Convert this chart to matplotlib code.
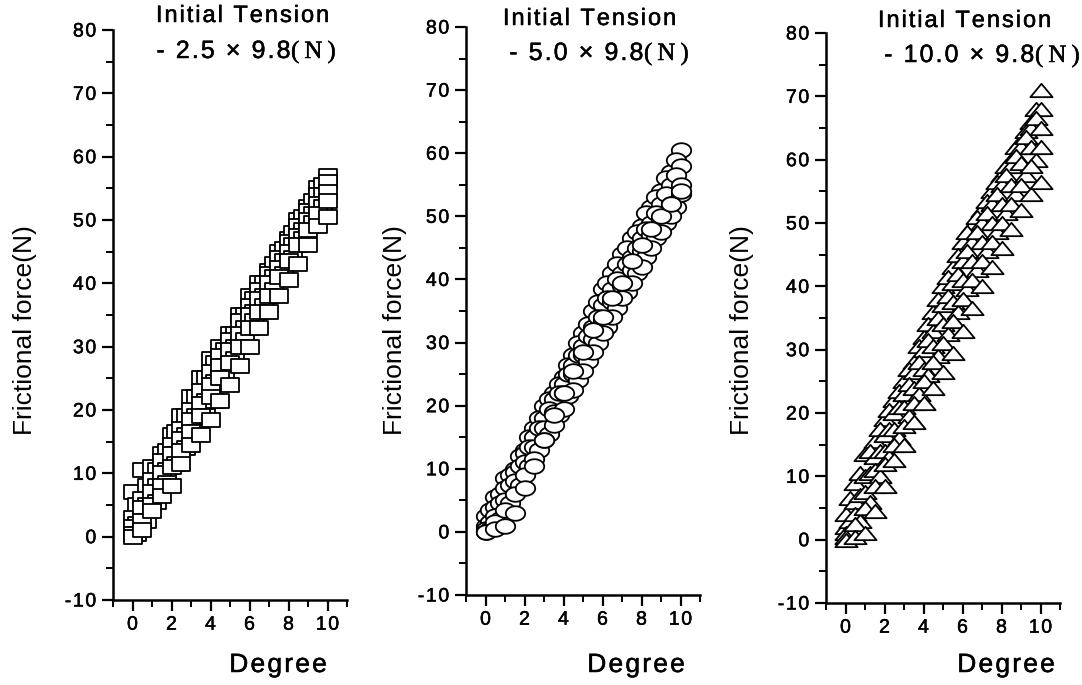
import numpy as np
import matplotlib.pyplot as plt
import matplotlib.patheffects as pe
from matplotlib.path import Path
from matplotlib.ticker import FuncFormatter

plt.rcParams['axes.unicode_minus'] = False

# Degree positions shared by all runs
degree = [0, 0.5, 1, 1.5, 2, 2.5, 3, 3.5, 4, 4.5, 5, 5.5, 6, 6.5, 7, 7.5, 8, 8.5, 9, 9.5, 10]
degree_mid = [0.25, 0.75, 1.25, 1.75, 2.25, 2.75, 3.25, 3.75, 4.25, 4.75,
              5.25, 5.75, 6.25, 6.75, 7.25, 7.75, 8.25, 8.75, 9.25, 9.75]

# Initial tension 2.5 x 9.8 N (squares)
t25_run1 = [7, 10.5, 11, 13, 16, 19, 22, 25, 28, 30, 32, 35, 38, 40, 42, 45, 47, 50, 52, 55, 57]
t25_run2 = [3, 6, 9, 12, 14.5, 17, 20, 23, 26, 28.5, 31, 34, 36.5, 39, 41.5, 44, 46.5, 49, 51.5, 54, 56]
t25_run3 = [1.5, 4.5, 7, 10, 13, 15.5, 18.5, 21, 24, 27, 29.5, 32, 35, 37.5, 40, 42.5, 45, 47.5, 50, 52.5, 54.5]
t25_run4 = [0.5, 2.5, 5, 8, 11, 13.5, 16.5, 19, 22, 25, 27.5, 30, 33, 35.5, 38, 41, 43.5, 46, 48.5, 51, 53]
t25_run5 = [0, 1, 4, 6.5, 8, 11.5, 14.5, 16, 18.5, 21.5, 24, 27, 30, 33, 35.5, 38, 40.5, 43, 46, 49, 50.5]
t25_mid1 = [5, 8, 10.5, 13.5, 16.5, 19, 22, 25, 27.5, 29.5, 32, 35, 37.5, 40, 43, 45.5, 48, 50.5, 53, 55.5]
t25_mid2 = [2, 5, 8, 10.5, 13, 16, 19, 21.5, 24.5, 27, 30, 33, 35.5, 38, 41, 43.5, 46, 48.5, 51, 54]
t25_mid3 = [0.5, 2.5, 5.5, 8.5, 11.5, 14, 16.5, 19, 21.5, 25, 28, 31, 34, 36.5, 39, 41.5, 44, 47, 49.5, 52]

# Initial tension 5.0 x 9.8 N (circles)
t50_run1 = [2.5, 5.5, 8.5, 10, 13, 16.5, 20, 22, 24.5, 28, 31.5, 35, 38.5, 41, 44, 46.5, 48.5, 51.5, 54, 57, 60.5]
t50_run2 = [1, 4, 7, 9.5, 12.5, 15, 18, 21, 23.5, 26.5, 29.5, 32.5, 36, 38.5, 41, 43.5, 46.5, 49, 52, 55, 58]
t50_run3 = [0.5, 2.5, 5, 8, 11, 13.5, 16.5, 19, 22, 25, 28, 30.5, 33.5, 36.5, 39, 41.5, 44.5, 47, 49.5, 52, 55]
t50_run4 = [0, 1.5, 3.5, 6, 9, 11.5, 14.5, 17, 19.5, 22.5, 25.5, 28.5, 31.5, 34, 37, 39.5, 42, 45, 47.5, 50, 53.5]
t50_run5 = [0, 0.5, 1, 3, 7, 10.5, 14.5, 18.5, 22, 25.5, 28.5, 32, 34, 37, 39.5, 43, 45.5, 48, 50, 52, 54]
t50_mid1 = [3.5, 6, 9, 12, 15, 18, 21, 23.5, 26.5, 30, 33, 36.5, 39.5, 42.5, 45, 47.5, 50.5, 53, 56, 59]
t50_mid2 = [1.5, 4.5, 7.5, 10.5, 13.5, 16.5, 19.5, 22, 25, 28, 31, 34, 37, 40, 42.5, 45, 48, 50.5, 53.5, 56.5]
t50_mid3 = [0.5, 2, 4.5, 7.5, 10.5, 13, 15.5, 18.5, 21.5, 24, 27, 30, 32.5, 35.5, 38, 41, 43.5, 46.5, 49, 51.5]

# Initial tension 10.0 x 9.8 N (triangles)
t100_run1 = [4, 9, 13.5, 15.5, 19, 22, 25, 28, 32, 36, 40, 43, 47, 49.5, 52, 55, 57.5, 60, 63, 66, 71]
t100_run2 = [2, 6, 10, 13, 16.5, 20, 23, 26.5, 30, 33, 37, 40.5, 44, 47, 50, 53, 56, 59, 62, 65, 68]
t100_run3 = [1, 4, 7.5, 11, 14, 17.5, 21, 24, 27, 30.5, 34, 37.5, 41, 44, 47, 50, 53, 56, 59.5, 62, 65]
t100_run4 = [0.5, 2.5, 5, 8.5, 12, 15, 18, 21.5, 25, 28, 31, 34.5, 38, 41, 44, 47, 50, 53, 56, 59, 62]
t100_run5 = [0, 0.5, 1, 4.5, 8.5, 12.5, 15, 18.5, 21.5, 24, 26.5, 29.5, 33, 36.5, 40, 43, 46, 49, 52, 54.5, 56.5]
t100_mid1 = [6.5, 10.5, 14, 17.5, 20.5, 23.5, 27, 30.5, 34, 38, 41.5, 45, 48.5, 51, 53.5, 56.5, 59, 62, 64.5, 68]
t100_mid2 = [3, 7, 10.5, 14, 17.5, 21, 24.5, 28, 31.5, 35, 38.5, 42, 45.5, 48.5, 51.5, 54.5, 57.5, 60.5, 63.5, 66.5]
t100_mid3 = [1, 3, 6, 10, 13, 16, 19.5, 23, 26, 29, 32.5, 36, 39.5, 42.5, 45.5, 48.5, 51.5, 54.5, 57.5, 60]

# flattened marker shapes (the scan stretches them horizontally)
rect = Path([(-1, -0.8), (1, -0.8), (1, 0.8), (-1, 0.8), (-1, -0.8)], closed=True)
th = np.linspace(0, 2 * np.pi, 40)
ellipse = Path(np.column_stack([np.cos(th), 0.75 * np.sin(th)]), closed=True)
tri = Path([(-1, -0.6), (1, -0.6), (0, 0.6), (-1, -0.6)], closed=True)

panels = [
    {"runs": [t25_run1, t25_run2, t25_run3, t25_run4, t25_run5],
     "mids": [t25_mid1, t25_mid2, t25_mid3], "marker": rect, "ms": 12.5,
     "rect": [113, 30, 347, 600], "line2": "- 2.5 × 9.8", "t1x": 243, "t2x": 291,
     "t1y": 22, "t2y": 58, "ylx": 25, "degx": 278},
    {"runs": [t50_run1, t50_run2, t50_run3, t50_run4, t50_run5],
     "mids": [t50_mid1, t50_mid2, t50_mid3], "marker": ellipse, "ms": 14,
     "rect": [466, 27, 700, 595], "line2": "- 5.0 × 9.8", "t1x": 590, "t2x": 644,
     "t1y": 25, "t2y": 60, "ylx": 395, "degx": 636},
    {"runs": [t100_run1, t100_run2, t100_run3, t100_run4, t100_run5],
     "mids": [t100_mid1, t100_mid2, t100_mid3], "marker": tri, "ms": 16,
     "rect": [826, 33, 1060, 603], "line2": "- 10.0 × 9.8", "t1x": 965, "t2x": 1035,
     "t1y": 27, "t2y": 62, "ylx": 742, "degx": 1006},
]

W, H = 1082, 685
fig = plt.figure(figsize=(W / 100, H / 100), dpi=100)
sans = "Liberation Sans"
hair = "\u200a"
thick = [pe.withStroke(linewidth=0.35, foreground="black")]


def spaced(s, gap=hair):
    return gap.join(s)


tick_fmt = FuncFormatter(lambda v, pos: spaced("%d" % v))

for p in panels:
    x0, y0, x1, y1 = p["rect"]
    ax = fig.add_axes([x0 / W, 1 - y1 / H, (x1 - x0) / W, (y1 - y0) / H])
    style = dict(linestyle="none", marker=p["marker"], markersize=p["ms"],
                 markerfacecolor="white", markeredgecolor="black", markeredgewidth=1.3,
                 clip_on=False)
    for run, mid in zip(p["runs"][:3], p["mids"]):
        ax.plot(degree, run, **style)
        ax.plot(degree_mid, mid, **style)
    for run in p["runs"][3:]:
        ax.plot(degree, run, **style)
    ax.set_xlim(-1, 11)
    ax.set_ylim(-10, 80)
    ax.set_xticks([0, 2, 4, 6, 8, 10])
    ax.set_xticks([-1, 1, 3, 5, 7, 9, 11], minor=True)
    ax.set_yticks(np.arange(-10, 81, 10))
    ax.set_yticks(np.arange(-5, 80, 10), minor=True)
    ax.xaxis.set_major_formatter(tick_fmt)
    ax.yaxis.set_major_formatter(tick_fmt)
    ax.spines["top"].set_visible(False)
    ax.spines["right"].set_visible(False)
    for s in ["left", "bottom"]:
        ax.spines[s].set_linewidth(1.8)
    ax.tick_params(which="major", direction="out", length=8, width=1.6, labelsize=14, pad=4)
    ax.tick_params(which="minor", direction="out", length=5, width=1.4)
    for lab in ax.get_xticklabels() + ax.get_yticklabels():
        lab.set_fontfamily(sans)
        lab.set_path_effects(thick)

    fig.text(p["ylx"] / W, 1 - 330 / H, "Frictional force(N)", rotation=90, ha="center",
             va="center", fontsize=19, family=sans)
    fig.text(p["degx"] / W, 1 - 672 / H, spaced("Degree"), ha="center", va="baseline",
             fontsize=19, family=sans, path_effects=thick)
    fig.text(p["t1x"] / W, 1 - p["t1y"] / H, spaced("Initial Tension"), ha="center",
             va="baseline", fontsize=17, family=sans, path_effects=thick)
    fig.text(p["t2x"] / W, 1 - p["t2y"] / H, spaced(p["line2"]), ha="right", va="baseline",
             fontsize=18, family=sans, path_effects=thick)
    fig.text(p["t2x"] / W, 1 - p["t2y"] / H, spaced("(N)", "\u2009"), ha="left",
             va="baseline", fontsize=18, family="Liberation Serif", path_effects=thick)

fig.savefig("out.png", dpi=100)
